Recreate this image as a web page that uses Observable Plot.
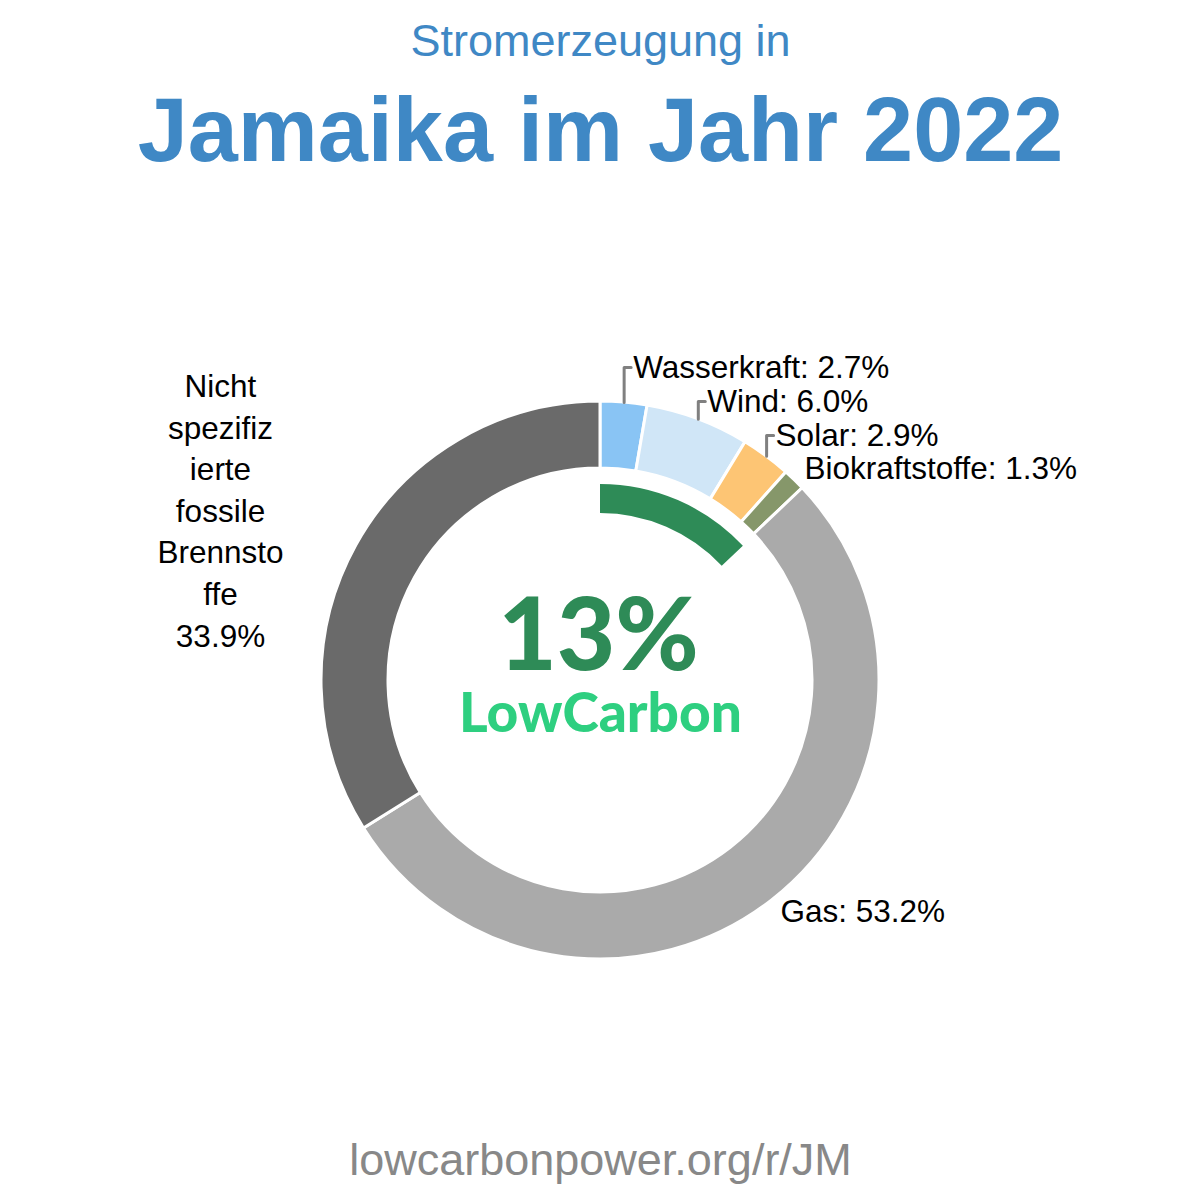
<!DOCTYPE html>
<html><head><meta charset="utf-8">
<script src="https://cdn.jsdelivr.net/npm/d3@7"></script>
<script src="https://cdn.jsdelivr.net/npm/@observablehq/plot@0.6"></script>
<style>body{margin:0;background:#fff;} #chart svg{display:block;}</style>
</head><body><div id="chart"></div>
<script>
// ---- data ----
const sources = ["Wasserkraft", "Wind", "Solar", "Biokraftstoffe", "Gas", "Nicht spezifizierte fossile Brennstoffe"];
const shares = [2.7, 6.0, 2.9, 1.3, 53.2, 33.9];
const sliceColors = ["#89c4f4", "#d0e6f7", "#fdc574", "#86976a", "#aaaaaa", "#6a6a6a"];
const lowCarbonShare = 13;
const subtitleText = "Stromerzeugung in";
const titleText = "Jamaika im Jahr 2022";
const footerText = "lowcarbonpower.org/r/JM";
const lowCarbonWord = "LowCarbon";

// ---- layout (pixels relative to donut centre) ----
const R_OUT = 279, R_IN = 212, G_OUT = 196, G_IN = 167;
const FONT = "Liberation Sans, Arial, sans-serif";
const LABEL_SIZE = 31.5;
const labelLayout = [
  {leaderY: -313},
  {leaderY: -279},
  {leaderY: -245},
  {dx: 204, dy: -212},
  {dx: 180, dy: 231},
  {dx: -380, dy: -172, wrap: 8}
];

const table = sources.map((s, i) => ({source: s, share: shares[i], color: sliceColors[i]}));
const arcs = d3.pie().sort(null).value(d => d.share).startAngle(0).endAngle(2 * Math.PI)(table);

function wrapLabel(name, n) {
  return name.split(" ").flatMap(w => { const out = []; for (let k = 0; k < w.length; k += n) out.push(w.slice(k, k + n)); return out; }).join("\n");
}

const startLabels = [], centerLabels = [], leaders = [];
arcs.forEach((a, i) => {
  const L = labelLayout[i];
  const mid = (a.startAngle + a.endAngle) / 2;
  const px = R_OUT * Math.sin(mid), py = -R_OUT * Math.cos(mid);
  const txt = `${a.data.source}: ${a.data.share.toFixed(1)}%`;
  if (L.leaderY !== undefined) {
    leaders.push({k: i, x: px, y: py}, {k: i, x: px, y: L.leaderY}, {k: i, x: px + 7, y: L.leaderY});
    startLabels.push({x: px + 9, y: L.leaderY, text: txt});
  } else if (L.wrap) {
    centerLabels.push({x: L.dx, y: L.dy, text: wrapLabel(a.data.source, L.wrap) + "\n" + a.data.share.toFixed(1) + "%"});
  } else {
    startLabels.push({x: L.dx, y: L.dy, text: txt});
  }
});

function ringMark(index, scales) {
  const cx = scales.x(0), cy = scales.y(0);
  const k = scales.x(1) - scales.x(0);
  const g = d3.create("svg:g").attr("transform", `translate(${cx},${cy})`);
  const arcGen = d3.arc().innerRadius(R_IN * k).outerRadius(R_OUT * k);
  g.selectAll("path.slice").data(arcs).join("path")
    .attr("d", arcGen).attr("fill", d => d.data.color)
    .attr("stroke", "#fff").attr("stroke-width", 3);
  const lc = d3.arc().innerRadius(G_IN * k).outerRadius(G_OUT * k)
    .startAngle(0).endAngle(2 * Math.PI * lowCarbonShare / 100);
  g.append("path").attr("d", lc()).attr("fill", "#2e8b57");
  return g.node();
}

const chart = Plot.plot({
  width: 1200, height: 1200,
  margin: 0,
  x: {domain: [-600, 600], range: [0, 1200], axis: null},
  y: {domain: [-680, 520], range: [0, 1200], axis: null},
  marks: [
    ringMark,
    Plot.line(leaders, {x: "x", y: "y", z: "k", stroke: "#808080", strokeWidth: 3, curve: "linear"}),
    Plot.text(startLabels, {x: "x", y: "y", text: "text", textAnchor: "start", fontSize: LABEL_SIZE, fontFamily: FONT, fill: "#000", lineAnchor: "middle"}),
    Plot.text(centerLabels, {x: "x", y: "y", text: "text", textAnchor: "middle", fontSize: LABEL_SIZE, fontFamily: FONT, fill: "#000", lineHeight: 1.32, lineAnchor: "middle"}),
    Plot.text([subtitleText], {x: 0, y: -625, text: d => d, fontSize: 45, fontFamily: FONT, fill: "#3f88c5", lineAnchor: "bottom"}),
    Plot.text([titleText], {x: 0, y: -520, text: d => d, fontSize: 90, fontWeight: "bold", fontFamily: FONT, fill: "#3f88c5", lineAnchor: "bottom"}),
    Plot.text([`${lowCarbonShare}%`], {x: -2, y: -11, text: d => d, fontSize: 101, fontWeight: 900, fontFamily: "Lato, sans-serif", fill: "#2e8b57", lineAnchor: "bottom"}),
    Plot.text([lowCarbonWord], {x: 0, y: 51, text: d => d, fontSize: 55, fontWeight: 900, fontFamily: "Lato, sans-serif", fill: "#2ecf80", lineAnchor: "bottom"}),
    Plot.text([footerText], {x: 0, y: 494, text: d => d, fontSize: 45, fontFamily: FONT, fill: "#888888", lineAnchor: "bottom"})
  ]
});
document.getElementById("chart").append(chart);
</script>
</body></html>
